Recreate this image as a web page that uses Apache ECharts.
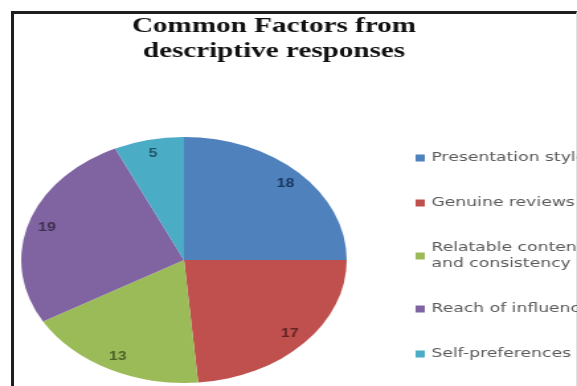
<!DOCTYPE html>
<html>
<head>
<meta charset="utf-8">
<script src="https://cdn.jsdelivr.net/npm/echarts@6/dist/echarts.min.js"></script>
<style>
  html, body {
    margin: 0;
    padding: 0;
    background: #fff;
    overflow: hidden;
  }
  .frame {
    position: absolute;
    left: 11px;
    top: 11px;
    width: 562px;
    height: 400px;
    border-top: 3px solid #1e1e1e;
    border-left: 3px solid #1e1e1e;
    border-right: 1px solid #e2e2e2;
    pointer-events: none;
  }
  /* the original picture is stretched sideways, so the chart is too */
  .chart-wrap {
    position: absolute;
    left: 0;
    top: 0;
    width: 436px;
    height: 386px;
    transform: scaleX(1.3234);
    transform-origin: 0 0;
  }
  #FactorsChart {
    width: 436px;
    height: 386px;
  }
</style>
</head>
<body>
<div class="frame"></div>
<div class="chart-wrap">
  <div id="FactorsChart"></div>
</div>
<script>
const factorNames = [
  'Presentation style',
  'Genuine reviews',
  'Relatable content\nand consistency',
  'Reach of influencer',
  'Self-preferences'
];
const factorCounts = [18, 17, 13, 19, 5];
const sliceColors = ['#4f81bd', '#c0504d', '#9bbb59', '#8064a2', '#4bacc6'];
const labelColors = ['#17375e', '#632523', '#4f6228', '#3f3151', '#215968'];

const chartDom = document.getElementById('FactorsChart');
const myChart = echarts.init(chartDom, null, { renderer: 'canvas' });

const sliceData = factorNames.map((name, i) => ({ name: name, value: factorCounts[i] }));
const labelData = factorNames.map((name, i) => ({
  name: name,
  value: factorCounts[i],
  label: { color: labelColors[i] }
}));

const option = {
  animation: false,
  color: sliceColors,
  title: {
    text: 'Common Factors from\ndescriptive responses',
    left: 202,
    top: 9,
    textAlign: 'center',
    textStyle: {
      fontFamily: 'Liberation Serif',
      fontWeight: 'bold',
      fontSize: 22,
      lineHeight: 25,
      color: '#111'
    }
  },
  legend: {
    orient: 'vertical',
    left: 309,
    top: 145,
    itemWidth: 7,
    itemHeight: 7,
    itemGap: 29,
    icon: 'rect',
    selectedMode: false,
    data: factorNames,
    textStyle: {
      fontFamily: 'DejaVu Sans',
      fontSize: 13,
      lineHeight: 16,
      color: '#595959'
    }
  },
  series: [
    {
      name: 'Factors',
      type: 'pie',
      center: [139, 260],
      radius: 123,
      startAngle: 90,
      clockwise: true,
      silent: true,
      label: { show: false },
      labelLine: { show: false },
      emphasis: { disabled: true },
      data: sliceData
    },
    {
      // only carries the value labels, placed near the rim
      name: 'Labels',
      type: 'pie',
      center: [139, 260],
      radius: [88, 123],
      startAngle: 90,
      clockwise: true,
      silent: true,
      itemStyle: { color: 'transparent' },
      label: {
        show: true,
        position: 'inside',
        formatter: '{c}',
        fontFamily: 'Liberation Sans',
        fontWeight: 'bold',
        fontSize: 12
      },
      labelLine: { show: false },
      emphasis: { disabled: true },
      data: labelData
    }
  ]
};

myChart.setOption(option);
</script>
</body>
</html>
